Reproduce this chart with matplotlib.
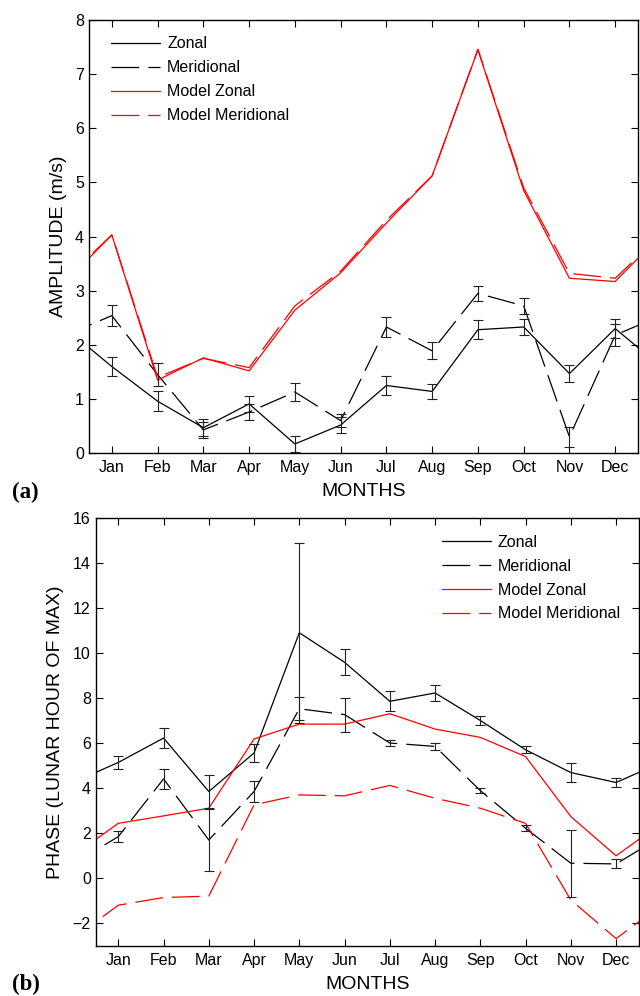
import matplotlib
matplotlib.use('Agg')
import matplotlib.pyplot as plt
import numpy as np

plt.rcParams['font.family'] = ['Liberation Sans', 'DejaVu Sans']
plt.rcParams['lines.scale_dashes'] = False

months = ['Jan', 'Feb', 'Mar', 'Apr', 'May', 'Jun',
          'Jul', 'Aug', 'Sep', 'Oct', 'Nov', 'Dec']

# (a) amplitude, m/s
amp_zonal = [1.60, 0.96, 0.47, 0.91, 0.17, 0.52, 1.25, 1.14, 2.28, 2.33, 1.47, 2.30]
amp_zonal_err = [0.18, 0.19, 0.16, 0.15, 0.14, 0.15, 0.17, 0.14, 0.18, 0.15, 0.16, 0.17]
amp_merid = [2.54, 1.45, 0.43, 0.76, 1.13, 0.60, 2.33, 1.89, 2.95, 2.72, 0.30, 2.18]
amp_merid_err = [0.19, 0.21, 0.15, 0.15, 0.16, 0.12, 0.18, 0.16, 0.14, 0.15, 0.19, 0.20]
amp_model_zonal = [4.03, 1.35, 1.76, 1.52, 2.64, 3.33, 4.25, 5.12, 7.45, 4.85, 3.23, 3.17]
amp_model_merid = [4.03, 1.40, 1.75, 1.58, 2.72, 3.36, 4.30, 5.12, 7.46, 4.90, 3.32, 3.23]

# (b) phase, lunar hour of max
ph_zonal = [5.14, 6.22, 3.85, 5.56, 10.89, 9.58, 7.85, 8.22, 7.00, 5.70, 4.69, 4.25]
ph_zonal_err = [0.30, 0.44, 0.75, 0.39, 4.00, 0.57, 0.45, 0.37, 0.20, 0.15, 0.41, 0.18]
ph_merid = [1.85, 4.41, 1.70, 3.85, 7.52, 7.26, 6.00, 5.85, 3.89, 2.22, 0.67, 0.64]
ph_merid_err = [0.24, 0.44, 1.37, 0.47, 0.52, 0.75, 0.15, 0.15, 0.10, 0.13, 1.48, 0.20]
ph_model_zonal = [2.44, 2.77, 3.11, 6.18, 6.84, 6.84, 7.30, 6.62, 6.25, 5.40, 2.74, 1.00]
ph_model_merid = [-1.19, -0.85, -0.79, 3.26, 3.70, 3.66, 4.12, 3.55, 3.11, 2.44, -0.96, -2.67]

x = np.arange(1, 13)
# wrap round the year: Dec before Jan, Jan after Dec
xw = np.arange(0, 14)


def wrap(v):
    return [v[-1]] + list(v) + [v[0]]


dash = (0, (20, 6.5))
lw = 0.9


def panel(ax, zon, zon_e, mer, mer_e, mzon, mmer):
    ax.plot(xw, wrap(zon), color='k', lw=lw, label='Zonal')
    ax.plot(xw, wrap(mer), color='k', lw=lw, linestyle=dash, label='Meridional')
    ax.plot(xw, wrap(mzon), color='#ff0000', lw=lw, label='Model Zonal')
    ax.plot(xw, wrap(mmer), color='#ff0000', lw=lw, linestyle=dash, label='Model Meridional')
    ax.errorbar(x, zon, yerr=zon_e, fmt='none', ecolor='#222222', elinewidth=0.8,
                capsize=3.8, capthick=0.8)
    ax.errorbar(x, mer, yerr=mer_e, fmt='none', ecolor='#222222', elinewidth=0.8,
                capsize=3.8, capthick=0.8)
    ax.set_xlim(0.5, 12.5)
    ax.set_xticks(x)
    ax.set_xticklabels(months)
    ax.tick_params(direction='in', top=True, right=True, length=5,
                   labelsize=11.5, width=0.8)
    ax.tick_params(axis='x', pad=5)
    for s in ax.spines.values():
        s.set_linewidth(1.0)
    ax.set_xlabel('MONTHS', fontsize=14, labelpad=6)


fig = plt.figure(figsize=(6.4, 9.96), dpi=100)

ax1 = fig.add_axes([0.139, 0.545, 0.858, 0.435])
panel(ax1, amp_zonal, amp_zonal_err, amp_merid, amp_merid_err,
      amp_model_zonal, amp_model_merid)
ax1.set_ylim(0, 8)
ax1.set_yticks(range(0, 9))
ax1.set_ylabel('AMPLITUDE (m/s)', fontsize=14, labelpad=6)
ax1.legend(loc='upper left', bbox_to_anchor=(0.04, 0.962), frameon=False,
           fontsize=11.5, handlelength=3.1, handletextpad=0.42,
           labelspacing=0.56, borderpad=0, borderaxespad=0)

ax2 = fig.add_axes([0.1495, 0.0502, 0.8485, 0.4302])
panel(ax2, ph_zonal, ph_zonal_err, ph_merid, ph_merid_err,
      ph_model_zonal, ph_model_merid)
ax2.set_ylim(-3, 16)
ax2.set_yticks(range(-2, 17, 2))
ax2.set_ylabel('PHASE (LUNAR HOUR OF MAX)', fontsize=14, labelpad=6)
ax2.legend(loc='upper left', bbox_to_anchor=(0.637, 0.96), frameon=False,
           fontsize=11.5, handlelength=3.1, handletextpad=0.42,
           labelspacing=0.56, borderpad=0, borderaxespad=0)

fig.text(0.019, 0.506, '(a)', fontsize=16.5, fontweight='bold',
         family='Liberation Serif', va='center')
fig.text(0.019, 0.012, '(b)', fontsize=16.5, fontweight='bold',
         family='Liberation Serif', va='center')

fig.savefig('out.png', dpi=100)
